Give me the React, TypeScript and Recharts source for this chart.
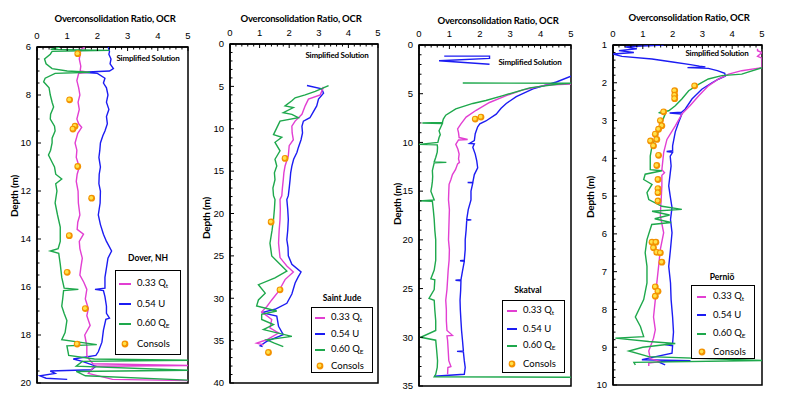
import React from 'react';
import { ScatterChart, Scatter, XAxis, YAxis, ReferenceArea } from 'recharts';

const PINK = '#e23fd2';
const BLUE = '#1c1cf2';
const GREEN = '#1ea84c';
const ORANGE = '#f39200';
const YELLOW = '#ffe24a';

type Pair = [number, number]; // [depth (m), OCR]

const ocrMajor = [0, 1, 2, 3, 4, 5];

// ---- Dover, NH ----
const doverBlue: Pair[] = [
  [6.0, 2.36], [6.2, 2.4], [6.3, 2.38], [6.5, 2.45], [6.7, 2.42], [6.9, 2.53], [7.0, 2.4], [7.05, 1.5], [7.1, 2.0],
  [7.3, 2.25], [7.5, 2.2], [7.7, 2.3], [8.0, 2.35], [8.3, 2.3], [8.6, 2.38], [8.9, 2.3], [9.2, 2.33], [9.5, 2.25],
  [9.7, 2.18], [10.0, 2.1], [10.3, 2.08], [10.6, 2.05], [11.0, 2.1], [11.3, 2.06], [11.7, 2.05], [12.0, 2.1],
  [12.5, 2.09], [13.0, 2.03], [13.4, 2.1], [13.8, 2.2], [14.1, 2.3], [14.5, 2.47], [14.8, 2.35], [15.2, 2.3],
  [15.6, 2.25], [16.05, 2.25], [16.1, 1.92], [16.15, 2.2], [16.4, 2.25], [16.8, 2.3], [17.1, 2.3], [17.3, 2.4],
  [17.35, 2.28], [17.8, 2.2], [18.3, 2.15], [18.7, 2.03], [18.85, 1.95], [19.0, 1.2], [19.1, 1.5], [19.3, 1.95],
  [19.45, 1.8], [19.5, 0.44], [19.6, 0.6], [19.7, 0.1], [19.8, 0.3], [19.85, 1.0],
];
const doverPink: Pair[] = [
  [6.0, 1.6], [6.1, 1.45], [6.3, 1.43], [6.5, 1.4], [6.8, 1.45], [7.0, 1.43], [7.05, 1.7], [7.1, 1.38], [7.4, 1.32],
  [7.7, 1.38], [8.0, 1.42], [8.3, 1.36], [8.6, 1.4], [9.0, 1.32], [9.2, 1.38], [9.35, 1.48], [9.6, 1.35], [10.0, 1.26],
  [10.3, 1.32], [10.6, 1.3], [11.0, 1.4], [11.3, 1.33], [11.6, 1.3], [12.0, 1.36], [12.5, 1.37], [13.0, 1.42],
  [13.3, 1.35], [13.6, 1.33], [13.8, 1.54], [14.1, 1.4], [14.4, 1.42], [14.8, 1.5], [15.2, 1.45], [15.5, 1.42],
  [15.8, 1.55], [16.1, 1.65], [16.5, 1.6], [16.9, 1.7], [17.2, 1.65], [17.6, 1.76], [18.0, 1.58], [18.45, 1.65],
  [18.85, 1.65], [19.0, 1.72], [19.2, 1.85], [19.27, 5.0], [19.3, 1.9], [19.6, 1.7], [19.85, 2.5], [19.9, 5.0],
];
const doverGreen: Pair[] = [
  [6.0, 0.75], [6.1, 0.45], [6.14, 2.4], [6.18, 0.5], [6.3, 0.44], [6.5, 0.25], [6.7, 0.3], [6.9, 0.5], [7.0, 1.0],
  [7.05, 1.76], [7.1, 0.6], [7.3, 0.27], [7.45, 0.22], [7.7, 0.4], [8.0, 0.44], [8.3, 0.5], [8.5, 0.55], [8.8, 0.45],
  [9.0, 0.44], [9.3, 0.58], [9.5, 0.6], [9.8, 0.5], [10.0, 0.5], [10.3, 0.45], [10.5, 0.38], [10.8, 0.5], [11.0, 0.58],
  [11.3, 0.62], [11.5, 0.82], [11.7, 0.62], [12.0, 0.66], [12.5, 0.6], [13.0, 0.68], [13.5, 0.77], [14.1, 0.77],
  [14.4, 0.7], [14.5, 0.44], [14.6, 0.72], [15.05, 0.77], [15.6, 0.82], [16.05, 0.9], [16.1, 1.37], [16.15, 0.88],
  [16.5, 0.85], [16.8, 0.82], [17.1, 0.9], [17.4, 0.99], [17.9, 0.93], [18.2, 0.82], [18.4, 1.98], [18.45, 0.99],
  [18.85, 1.05], [19.0, 1.9], [19.05, 5.0], [19.1, 1.5], [19.3, 1.3], [19.47, 5.0], [19.52, 1.3], [19.7, 1.6], [19.88, 5.0],
];
const doverConsols: Pair[] = [
  [6.28, 1.35], [8.2, 1.08], [9.3, 1.26], [9.42, 1.19], [10.98, 1.35], [12.3, 1.81], [13.86, 1.07], [15.39, 1.0],
  [16.9, 1.6], [18.38, 1.33],
];

// ---- Saint Jude ----
const judeBlue: Pair[] = [
  [4.9, 2.6], [5.3, 3.1], [5.8, 3.16], [6.5, 2.99], [7.3, 2.93], [8.1, 2.8], [8.7, 2.7], [9.1, 2.48], [9.7, 2.43],
  [10.5, 2.45], [11.3, 2.4], [12.2, 2.31], [12.8, 2.26], [13.6, 2.15], [14.4, 2.09], [15.2, 2.05], [16.0, 2.03],
  [17.0, 2.0], [17.9, 1.97], [18.35, 1.92], [19.5, 1.95], [20.7, 1.97], [22.0, 1.95], [23.1, 1.92], [24.0, 1.96],
  [25.0, 1.97], [26.0, 2.09], [26.9, 2.4], [27.5, 2.3], [28.2, 2.2], [29.5, 2.09], [30.6, 1.92], [31.3, 1.52],
  [31.7, 1.07], [32.1, 1.58], [33.3, 1.64], [34.3, 1.8], [35.1, 1.24], [35.6, 1.02], [35.7, 1.1],
];
const judePink: Pair[] = [
  [5.06, 3.16], [6.0, 3.05], [6.5, 2.65], [7.3, 2.54], [8.3, 2.43], [9.1, 2.2], [9.7, 2.09], [10.5, 2.1], [11.3, 2.14],
  [12.0, 2.0], [13.2, 1.97], [14.4, 1.86], [15.2, 1.82], [16.0, 1.8], [17.0, 1.77], [17.9, 1.75], [18.35, 1.69],
  [19.5, 1.7], [20.7, 1.69], [22.0, 1.66], [23.5, 1.64], [25.2, 1.69], [26.2, 1.92], [26.9, 2.14], [27.8, 1.86],
  [29.2, 1.64], [30.2, 1.41], [31.0, 1.24], [31.6, 1.07], [32.5, 1.41], [33.5, 1.35], [34.1, 1.64], [34.9, 1.24],
  [35.3, 0.9], [35.5, 1.13],
];
const judeGreen: Pair[] = [
  [4.9, 3.33], [5.6, 2.88], [6.0, 2.54], [6.35, 2.2], [6.7, 2.09], [7.3, 1.86], [7.5, 2.14], [8.1, 1.8], [8.3, 2.09],
  [8.7, 2.31], [9.1, 1.69], [9.9, 1.58], [10.7, 1.47], [11.0, 1.75], [11.6, 1.52], [12.6, 1.69], [13.6, 1.52],
  [14.4, 1.58], [15.2, 1.5], [16.0, 1.52], [17.0, 1.45], [17.9, 1.47], [18.35, 1.52], [19.5, 1.5], [20.7, 1.47],
  [22.0, 1.42], [23.5, 1.35], [25.0, 1.41], [26.2, 1.75], [26.8, 1.92], [27.6, 1.52], [28.4, 0.96], [29.4, 1.19],
  [30.2, 0.96], [30.9, 0.9], [31.5, 1.58], [31.9, 1.07], [32.5, 1.07], [33.1, 1.47], [33.7, 1.13], [34.5, 2.09],
  [34.9, 1.24], [35.3, 1.5], [35.7, 1.8],
];
const judeConsols: Pair[] = [[13.5, 1.86], [21.0, 1.39], [29.0, 1.69], [36.4, 1.3]];

// ---- Skatval ----
const skatvalBlueTop: Pair[] = [[1.14, 0.83], [1.14, 2.32], [1.38, 2.32], [1.62, 0.66], [1.97, 2.32]];
const skatvalBlue: Pair[] = [
  [3.2, 5.0], [3.8, 4.52], [4.5, 3.75], [5.3, 3.2], [6.0, 2.87], [6.5, 2.7], [7.1, 2.54], [7.8, 2.2], [8.1, 2.0],
  [8.4, 1.93], [9.1, 1.85], [9.8, 1.82], [10.1, 1.66], [10.15, 1.82], [10.5, 1.77], [11.2, 1.85], [11.9, 1.9],
  [12.6, 1.93], [13.3, 1.82], [14.1, 1.77], [14.12, 1.6], [14.15, 1.77], [15.0, 1.71], [15.9, 1.71], [16.9, 1.62],
  [17.9, 1.57], [17.95, 1.72], [18.0, 1.57], [19.0, 1.55], [20.0, 1.52], [21.0, 1.52], [22.1, 1.49], [22.15, 1.35],
  [22.2, 1.49], [23.2, 1.43], [24.1, 1.38], [24.15, 1.2], [24.2, 1.38], [25.2, 1.37], [26.2, 1.35], [27.2, 1.36],
  [28.3, 1.38], [29.3, 1.4], [30.3, 1.43], [31.4, 1.46], [31.45, 1.25], [31.5, 1.46], [32.4, 1.49], [33.1, 1.52],
  [33.8, 1.49], [34.0, 0.5],
];
const skatvalPink: Pair[] = [
  [4.0, 5.0], [4.1, 4.2], [4.6, 3.42], [5.2, 2.87], [5.9, 2.32], [6.7, 1.88], [7.4, 1.55], [8.1, 1.38], [8.6, 1.27],
  [9.0, 1.3], [9.5, 1.32], [9.7, 1.6], [9.75, 1.3], [10.2, 1.21], [10.7, 1.28], [11.2, 1.32], [11.7, 1.3],
  [12.05, 1.33], [12.2, 1.27], [12.8, 1.2], [13.3, 1.1], [13.8, 1.05], [14.3, 0.99], [15.0, 0.98], [15.9, 0.97],
  [16.9, 1.0], [17.9, 0.99], [19.0, 0.98], [20.0, 0.97], [21.0, 1.0], [22.1, 0.99], [23.1, 0.96], [24.1, 0.94],
  [25.1, 0.92], [26.2, 0.88], [27.2, 0.9], [28.3, 0.9], [29.3, 0.92], [29.8, 1.1], [29.85, 0.92], [30.3, 0.94],
  [31.3, 0.96], [32.4, 0.98], [33.0, 1.05], [33.1, 0.95], [33.8, 0.94],
];
const skatvalGreen: Pair[] = [
  [3.9, 1.44], [3.92, 5.0], [4.0, 4.6], [4.4, 3.64], [5.2, 2.76], [5.7, 2.2], [6.0, 1.77], [6.55, 1.21], [7.2, 0.88],
  [7.6, 0.8], [7.95, 0.77], [8.0, 0.11], [8.05, 0.77], [8.8, 0.66], [9.2, 0.7], [9.5, 0.66], [10.0, 0.62], [10.2, 0.0],
  [10.25, 0.6], [10.5, 0.61], [11.0, 0.6], [11.55, 0.55], [12.0, 0.5], [12.05, 0.9], [12.1, 0.5], [12.9, 0.44],
  [13.5, 0.45], [14.0, 0.44], [14.5, 0.42], [15.0, 0.39], [15.5, 0.45], [15.9, 0.5], [16.0, 0.0], [16.05, 0.44],
  [16.9, 0.47], [17.9, 0.5], [19.0, 0.52], [20.0, 0.55], [21.0, 0.55], [22.1, 0.55], [23.1, 0.5], [24.0, 0.39],
  [24.1, 0.52], [25.1, 0.5], [26.0, 0.33], [26.2, 0.5], [27.2, 0.52], [28.3, 0.55], [29.3, 0.55], [30.0, 0.06],
  [30.3, 0.55], [31.3, 0.58], [32.4, 0.61], [33.1, 0.6], [33.8, 0.55], [34.05, 0.5], [34.1, 5.0],
];
const skatvalConsols: Pair[] = [[7.6, 1.85], [7.4, 2.04]];

// ---- Perniö ----
const pernioBlue: Pair[] = [
  [1.0, 1.7], [1.05, 0.4], [1.1, 0.8], [1.15, 0.2], [1.2, 0.7], [1.24, 0.0], [1.3, 0.3], [1.37, 1.31], [1.45, 2.0],
  [1.52, 2.6], [1.56, 2.9], [1.58, 3.1], [1.6, 2.5], [1.62, 3.2], [1.68, 3.5], [1.75, 3.75], [1.82, 3.77], [1.9, 3.55],
  [2.0, 3.32], [2.17, 2.98], [2.43, 2.65], [2.7, 2.42], [2.78, 2.3], [2.8, 1.9], [2.83, 2.31], [3.05, 2.2], [3.3, 2.09],
  [3.67, 2.0], [3.8, 2.0], [3.82, 1.8], [3.84, 2.0], [3.94, 1.92], [4.2, 1.95], [4.4, 1.92], [4.73, 1.87], [5.0, 1.92],
  [5.3, 1.98], [5.62, 1.93], [5.97, 1.98], [6.4, 1.93], [6.86, 1.87], [7.3, 1.93], [7.74, 1.95], [8.2, 2.0],
  [8.6, 2.03], [8.9, 2.0], [8.93, 1.75], [8.96, 2.0], [9.16, 1.98], [9.33, 0.97], [9.36, 2.6], [9.38, 1.5], [9.47, 1.75],
];
const pernioPink: Pair[] = [
  [1.1, 4.85], [1.15, 4.85], [1.2, 5.0], [1.3, 4.85], [1.35, 5.0], [1.6, 5.0], [1.68, 4.32], [1.77, 3.88], [1.9, 3.54],
  [2.08, 3.2], [2.35, 2.87], [2.6, 2.59], [2.83, 2.31], [3.14, 2.09], [3.5, 1.81], [3.85, 1.7], [4.3, 1.64],
  [4.38, 1.73], [4.45, 1.64], [4.73, 1.64], [5.04, 1.62], [5.3, 1.6], [5.53, 1.59], [5.97, 1.7], [6.4, 1.59],
  [6.86, 1.53], [7.3, 1.47], [7.74, 1.42], [8.2, 1.36], [8.54, 1.42], [8.76, 1.36], [9.1, 1.2], [9.3, 1.25],
  [9.38, 1.6], [9.42, 1.2], [9.5, 1.2],
];
const pernioGreen: Pair[] = [
  [1.6, 5.0], [1.77, 4.32], [1.81, 3.65], [1.9, 3.2], [2.04, 2.87], [2.21, 2.54], [2.43, 2.31], [2.61, 2.09],
  [2.74, 1.87], [2.79, 1.53], [2.83, 1.75], [3.14, 1.59], [3.4, 1.47], [3.67, 1.31], [3.94, 1.25], [4.3, 1.25],
  [4.33, 1.64], [4.42, 1.08], [4.56, 1.03], [4.69, 1.31], [4.91, 1.14], [5.09, 1.2], [5.27, 1.64], [5.35, 2.31],
  [5.4, 1.31], [5.5, 1.9], [5.6, 1.4], [5.7, 1.95], [5.75, 1.3], [6.15, 1.14], [6.5, 1.08], [6.86, 1.14], [7.3, 1.14],
  [7.74, 1.03], [8.2, 0.75], [8.45, 0.92], [8.72, 1.03], [8.76, 0.08], [8.85, 1.2], [8.9, 2.09], [9.0, 1.0],
  [9.1, 0.53], [9.25, 1.2], [9.35, 5.0], [9.4, 0.7], [9.47, 0.75],
];
const pernioConsols: Pair[] = [
  [2.08, 2.74], [2.21, 2.07], [2.33, 2.07], [2.42, 2.07], [2.77, 1.7], [3.0, 1.59], [3.14, 1.64], [3.23, 1.53],
  [3.36, 1.42], [3.5, 1.47], [3.54, 1.26], [3.67, 1.36], [3.92, 1.53], [4.19, 1.47], [4.56, 1.51], [4.8, 1.51],
  [4.91, 1.51], [5.13, 1.51], [6.22, 1.31], [6.22, 1.44], [6.37, 1.36], [6.49, 1.47], [6.5, 1.59], [6.75, 1.64],
  [7.4, 1.42], [7.52, 1.51], [7.65, 1.42],
];

const toPts = (a: Pair[]) => a.map(([d, o]) => ({ d, o }));

function steps(lo: number, hi: number, step: number) {
  const out: number[] = [];
  for (let v = lo; v <= hi + 1e-9; v += step) out.push(Math.round(v * 100) / 100);
  return out;
}

const isMajor = (v: number, majors: number[]) => majors.some((m) => Math.abs(m - v) < 1e-6);
const TICK_FONT = '"Liberation Sans", Arial, sans-serif';
const TEXT_FONT = 'Lato, "Open Sans", sans-serif';

function TopTick(props: any) {
  const { x, y, payload, majors } = props;
  const v = payload.value;
  const axisY = y + 5;
  const major = isMajor(v, majors);
  return (
    <g>
      <line x1={x} x2={x} y1={axisY} y2={axisY + (major ? 4 : 2.5)} stroke="#000" strokeWidth={1} />
      {major && (
        <text x={x} y={axisY - 8.5} textAnchor="middle" fontSize={9.5} fontFamily={TICK_FONT} fill="#000">
          {v}
        </text>
      )}
    </g>
  );
}

function LeftTick(props: any) {
  const { x, y, payload, majors } = props;
  const v = payload.value;
  const axisX = x + 5;
  const major = isMajor(v, majors);
  return (
    <g>
      <line x1={axisX} x2={axisX + (major ? 4 : 2.5)} y1={y} y2={y} stroke="#000" strokeWidth={1} />
      {major && (
        <text x={axisX - 6} y={y + 3.3} textAnchor="end" fontSize={9.5} fontFamily={TICK_FONT} fill="#000">
          {v}
        </text>
      )}
    </g>
  );
}

const NoDot = () => <g />;
const ConsolDot = (p: any) => (
  <g>
    <circle cx={p.cx} cy={p.cy} r={3.4} fill={ORANGE} />
    <circle cx={p.cx - 0.4} cy={p.cy - 0.4} r={1.9} fill={YELLOW} />
  </g>
);

type Series = { data: Pair[]; color: string };

function Panel({
  left,
  width,
  margin,
  yDomain,
  yMajors,
  yStep,
  series,
  consols,
}: {
  left: number;
  width: number;
  margin: { top: number; right: number; bottom: number; left: number };
  yDomain: [number, number];
  yMajors: number[];
  yStep: number;
  series: Series[];
  consols: Pair[];
}) {
  const xTicks = steps(0, 5, 0.2);
  const yTicks = steps(yDomain[0], yDomain[1], yStep);
  return (
    <div style={{ position: 'absolute', left, top: 0 }}>
      <ScatterChart width={width} height={397} margin={margin}>
        <XAxis
          type="number"
          dataKey="o"
          orientation="top"
          domain={[0, 5]}
          ticks={xTicks}
          interval={0}
          tickSize={0}
          tickMargin={5}
          height={20}
          allowDataOverflow
          axisLine={{ stroke: '#000', strokeWidth: 1.5 }}
          tick={(p: any) => <TopTick {...p} majors={ocrMajor} />}
        />
        <YAxis
          type="number"
          dataKey="d"
          domain={yDomain}
          reversed
          ticks={yTicks}
          interval={0}
          tickSize={0}
          tickMargin={5}
          width={24}
          allowDataOverflow
          axisLine={{ stroke: '#000', strokeWidth: 1.5 }}
          tick={(p: any) => <LeftTick {...p} majors={yMajors} />}
        />
        {series.map((s, i) => (
          <Scatter
            key={i}
            data={toPts(s.data)}
            fill={s.color}
            line={{ stroke: s.color, strokeWidth: 1.4 }}
            shape={NoDot}
            isAnimationActive={false}
          />
        ))}
        <Scatter data={toPts(consols)} fill={ORANGE} shape={ConsolDot} isAnimationActive={false} />
        <ReferenceArea x1={0} x2={5} y1={yDomain[0]} y2={yDomain[1]} fill="none" stroke="#000" strokeWidth={1.5} />
      </ScatterChart>
    </div>
  );
}

const legendRows = [
  { label: '0.33 Q', sub: 't', color: PINK },
  { label: '0.54 U', sub: '', color: BLUE },
  { label: '0.60 Q', sub: 'E', color: GREEN },
  { label: 'Consols', sub: '', color: '' },
];

function LegendBox({ left, top, width, height, first, gap, sw, swW, tx, site, siteX, siteY }: any) {
  return (
    <>
      <div
        style={{
          position: 'absolute',
          left: siteX,
          top: siteY,
          transform: 'translate(-50%, -50%)',
          fontFamily: TEXT_FONT,
          fontWeight: 700,
          fontSize: 8.5,
          whiteSpace: 'nowrap',
        }}
      >
        {site}
      </div>
      <div
        style={{
          position: 'absolute',
          left,
          top,
          width,
          height,
          border: '1.5px solid #000',
          background: '#fff',
          boxSizing: 'border-box',
        }}
      >
        {legendRows.map((r, i) => {
          const cy = first + i * gap;
          return (
            <React.Fragment key={i}>
              {r.color ? (
                <div
                  style={{ position: 'absolute', left: sw, top: cy - 1, width: swW, height: 2, background: r.color }}
                />
              ) : (
                <svg style={{ position: 'absolute', left: sw + swW / 2 - 4, top: cy - 4 }} width={8} height={8}>
                  <circle cx={4} cy={4} r={3.4} fill={ORANGE} />
                  <circle cx={3.6} cy={3.6} r={1.8} fill={YELLOW} />
                </svg>
              )}
              <div
                style={{
                  position: 'absolute',
                  left: tx,
                  top: cy,
                  transform: 'translateY(-50%)',
                  fontFamily: TEXT_FONT,
                  fontSize: 9.5,
                  lineHeight: 1,
                  whiteSpace: 'nowrap',
                }}
              >
                {r.label}
                {r.sub && <sub style={{ fontSize: 6.5, verticalAlign: -2 }}>{r.sub}</sub>}
              </div>
            </React.Fragment>
          );
        })}
      </div>
    </>
  );
}

function Label({ x, y, text, size, rotate }: { x: number; y: number; text: string; size: number; rotate?: boolean }) {
  return (
    <div
      style={{
        position: 'absolute',
        left: x,
        top: y,
        transform: `translate(-50%, -50%)${rotate ? ' rotate(-90deg)' : ''}`,
        fontFamily: TEXT_FONT,
        fontWeight: 700,
        fontSize: size,
        lineHeight: 1,
        whiteSpace: 'nowrap',
        letterSpacing: -0.2,
      }}
    >
      {text}
    </div>
  );
}

const TITLE = 'Overconsolidation Ratio, OCR';
const SIMPLE = 'Simplified Solution';
const DEPTH = 'Depth (m)';

export default function App() {
  return (
    <div style={{ position: 'absolute', left: 0, top: 0, width: 786, height: 397, background: '#fff', overflow: 'hidden' }}>
      <Panel
        left={0}
        width={195}
        margin={{ top: 27, right: 7, bottom: 14, left: 13 }}
        yDomain={[6, 20]}
        yMajors={steps(6, 20, 2)}
        yStep={0.5}
        series={[
          { data: doverBlue, color: BLUE },
          { data: doverPink, color: PINK },
          { data: doverGreen, color: GREEN },
        ]}
        consols={doverConsols}
      />
      <Panel
        left={190}
        width={195}
        margin={{ top: 24, right: 7, bottom: 14, left: 16 }}
        yDomain={[0, 40]}
        yMajors={steps(0, 40, 5)}
        yStep={1}
        series={[
          { data: judeBlue, color: BLUE },
          { data: judePink, color: PINK },
          { data: judeGreen, color: GREEN },
        ]}
        consols={judeConsols}
      />
      <Panel
        left={385}
        width={195}
        margin={{ top: 25, right: 9, bottom: 11, left: 10 }}
        yDomain={[0, 35]}
        yMajors={steps(0, 35, 5)}
        yStep={1}
        series={[
          { data: skatvalBlueTop, color: BLUE },
          { data: skatvalBlue, color: BLUE },
          { data: skatvalPink, color: PINK },
          { data: skatvalGreen, color: GREEN },
        ]}
        consols={skatvalConsols}
      />
      <Panel
        left={580}
        width={206}
        margin={{ top: 25, right: 24, bottom: 12, left: 9 }}
        yDomain={[1, 10]}
        yMajors={steps(1, 10, 1)}
        yStep={0.2}
        series={[
          { data: pernioBlue, color: BLUE },
          { data: pernioPink, color: PINK },
          { data: pernioGreen, color: GREEN },
        ]}
        consols={pernioConsols}
      />

      <Label x={115} y={19} text={TITLE} size={9.5} />
      <Label x={301} y={19} text={TITLE} size={9.5} />
      <Label x={498} y={21} text={TITLE} size={9.5} />
      <Label x={689} y={18} text={TITLE} size={9.5} />

      <Label x={148} y={58} text={SIMPLE} size={8} />
      <Label x={337} y={55} text={SIMPLE} size={8} />
      <Label x={530} y={62} text={SIMPLE} size={8} />
      <Label x={717} y={53} text={SIMPLE} size={8} />

      <Label x={14} y={196} text={DEPTH} size={10} rotate />
      <Label x={206} y={218} text={DEPTH} size={10} rotate />
      <Label x={397} y={204} text={DEPTH} size={10} rotate />
      <Label x={590} y={197} text={DEPTH} size={10} rotate />

      <LegendBox left={115} top={270} width={66} height={85} first={13} gap={20} sw={3} swW={12} tx={21} site="Dover, NH" siteX={148} siteY={258} />
      <LegendBox left={311} top={307} width={62} height={66} first={10} gap={16} sw={3} swW={10} tx={19} site="Saint Jude" siteX={342} siteY={298} />
      <LegendBox left={502} top={300} width={63} height={73} first={10} gap={17.7} sw={4} swW={10} tx={20} site="Skatval" siteX={528} siteY={290} />
      <LegendBox left={691} top={285} width={64} height={74} first={11} gap={18.3} sw={5} swW={9} tx={21} site="Perniö" siteX={722} siteY={277} />
    </div>
  );
}
